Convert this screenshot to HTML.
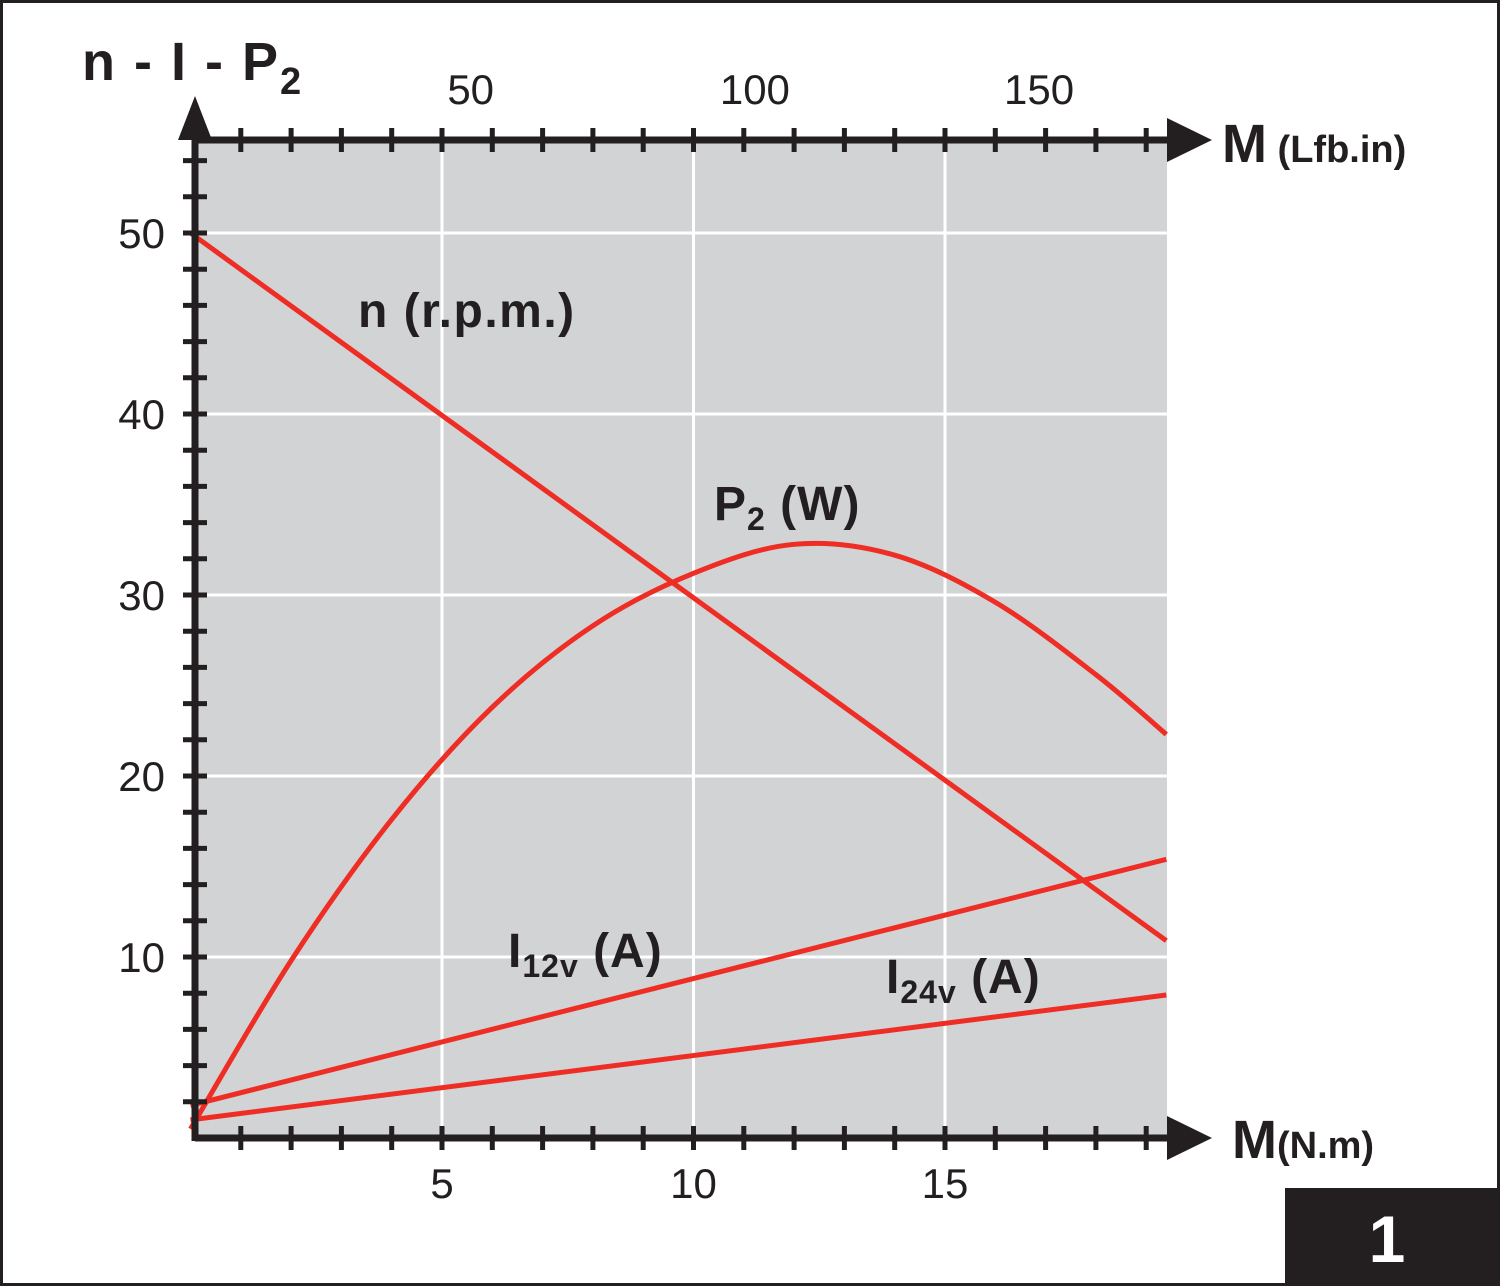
<!DOCTYPE html>
<html><head><meta charset="utf-8"><style>
html,body{margin:0;padding:0;background:#fff}
svg{display:block;font-family:"Liberation Sans",sans-serif}
</style></head><body>
<svg width="1500" height="1286" viewBox="0 0 1500 1286">
<rect x="1.5" y="1.5" width="1497" height="1283" fill="#fff" stroke="#231f20" stroke-width="3"/>
<rect x="195" y="140" width="972" height="998" fill="#d1d3d4"/>
<g id="grid"></g>
<g id="series"></g>
<g id="axes"></g>
<text x="82" y="80" font-size="54" font-weight="bold" fill="#231f20" letter-spacing="2">n - I - P<tspan font-size="38" dy="14">2</tspan></text>
<text x="1222" y="162" font-size="54" font-weight="bold" fill="#231f20">M<tspan font-size="38"> (Lfb.in)</tspan></text>
<text x="1232" y="1158" font-size="54" font-weight="bold" fill="#231f20">M<tspan font-size="38">(N.m)</tspan></text>
<text x="358" y="327" font-size="48" font-weight="bold" fill="#231f20" letter-spacing="1.5">n (r.p.m.)</text>
<text x="714" y="520" font-size="48" font-weight="bold" fill="#231f20" letter-spacing="1">P<tspan font-size="32" dy="10">2</tspan><tspan dy="-10"> (W)</tspan></text>
<text x="508" y="967" font-size="48" font-weight="bold" fill="#231f20" letter-spacing="1">I<tspan font-size="32" dy="10">12v</tspan><tspan dy="-10"> (A)</tspan></text>
<text x="886" y="993" font-size="48" font-weight="bold" fill="#231f20" letter-spacing="1">I<tspan font-size="32" dy="10">24v</tspan><tspan dy="-10"> (A)</tspan></text>
<rect x="1285" y="1188" width="215" height="98" fill="#231f20"/>
<text x="1387" y="1262" font-size="66" font-weight="bold" fill="#fff" text-anchor="middle">1</text>
</svg>
<script>
const xTicksNm = [5,10,15];
const xTicksLbf = [50,100,150];
const yTicks = [10,20,30,40,50];
const nM = [0,19.4];
const nVals = [50,10.9];
const pM = [0,2,4,6,8,10,12,14,16,18,19.4];
const pVals = [0.5,9.8,17.6,23.8,28.3,31.2,32.8,32.2,29.6,25.6,22.3];
const i12M = [0,19.4];
const i12Vals = [1.8,15.4];
const i24M = [0,19.4];
const i24Vals = [1.0,7.9];

const NS="http://www.w3.org/2000/svg";
const X0=190.5, XS=50.3, Y0=1138, YS=18.1;
const sx=v=>X0+v*XS, sy=v=>Y0-v*YS;
const G=id=>document.getElementById(id);
function mk(tag,a,parent){const e=document.createElementNS(NS,tag);for(const k in a)e.setAttribute(k,a[k]);parent.appendChild(e);return e;}

xTicksNm.forEach(v=>{
  const l=mk('line',{x1:sx(v),x2:sx(v),y1:140,y2:1138,stroke:'#fff','stroke-width':3},G('grid'));
  
  
  const t=mk('text',{x:sx(v),y:1198,'font-size':42,'text-anchor':'middle',fill:'#231f20'},G('axes'));
  t.textContent=v;
  
  
});
yTicks.forEach(v=>{
  const l=mk('line',{x1:195,x2:1167,y1:sy(v),y2:sy(v),stroke:'#fff','stroke-width':3},G('grid'));
  
  
  const t=mk('text',{x:165,y:sy(v)+15,'font-size':42,'text-anchor':'end',fill:'#231f20'},G('axes'));
  t.textContent=v;
  
  
});
xTicksLbf.forEach(v=>{
  const t=mk('text',{x:sx(v*0.113)-4,y:104,'font-size':42,'text-anchor':'middle',fill:'#231f20'},G('axes'));
  t.textContent=v;
  
  
});
function line(ms,vs,name){
  const d=ms.map((m,i)=>(i?'L':'M')+sx(m).toFixed(1)+' '+sy(vs[i]).toFixed(1)).join(' ');
  const p=mk('path',{d:d,fill:'none',stroke:'#ee2d24','stroke-width':5,'stroke-linejoin':'round'},G('series'));
  
  
}
function smooth(ms,vs,name){
  const pts=ms.map((m,i)=>[sx(m),sy(vs[i])]);
  let d='M'+pts[0][0]+' '+pts[0][1];
  for(let i=0;i<pts.length-1;i++){
    const p0=pts[Math.max(0,i-1)],p1=pts[i],p2=pts[i+1],p3=pts[Math.min(pts.length-1,i+2)];
    const c1=[p1[0]+(p2[0]-p0[0])/6,p1[1]+(p2[1]-p0[1])/6];
    const c2=[p2[0]-(p3[0]-p1[0])/6,p2[1]-(p3[1]-p1[1])/6];
    d+=` C${c1[0]} ${c1[1]} ${c2[0]} ${c2[1]} ${p2[0]} ${p2[1]}`;
  }
  const p=mk('path',{d:d,fill:'none',stroke:'#ee2d24','stroke-width':5},G('series'));
  
  
}
line(nM,nVals,'series-n-rpm');
smooth(pM,pVals,'series-p2-watts');
line(i12M,i12Vals,'series-i12v');
line(i24M,i24Vals,'series-i24v');

const ax=G('axes');
const a1=mk('line',{x1:195,x2:1175,y1:1138,y2:1138,stroke:'#231f20','stroke-width':7},ax);


const a2=mk('line',{x1:195,x2:1175,y1:140,y2:140,stroke:'#231f20','stroke-width':7},ax);


const a3=mk('line',{x1:195,x2:195,y1:130,y2:1141,stroke:'#231f20','stroke-width':7},ax);


const ar1=mk('polygon',{points:'1167,1116 1212,1138 1167,1160',fill:'#231f20'},ax);


const ar2=mk('polygon',{points:'1167,118 1212,140 1167,162',fill:'#231f20'},ax);


const ar3=mk('polygon',{points:'178,140 195,96 212,140',fill:'#231f20'},ax);


for(let v=1;v<=19;v++){
  const t=mk('line',{x1:sx(v),x2:sx(v),y1:1126,y2:1150,stroke:'#231f20','stroke-width':5},ax);
  
  
  const u=mk('line',{x1:sx(v),x2:sx(v),y1:128,y2:152,stroke:'#231f20','stroke-width':5},ax);
  
  
}
for(let v=2;v<=54;v+=2){
  const t=mk('line',{x1:183,x2:207,y1:sy(v),y2:sy(v),stroke:'#231f20','stroke-width':5},ax);
  
  
}
</script>
</body></html>
